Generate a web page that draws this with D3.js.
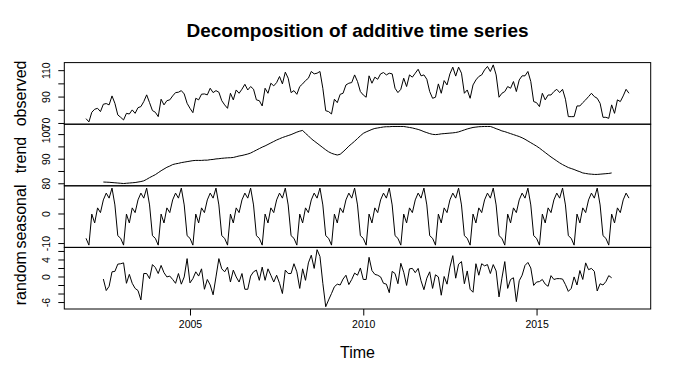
<!DOCTYPE html>
<html><head><meta charset="utf-8">
<script src="https://cdn.jsdelivr.net/npm/d3@7"></script>
<style>
body{margin:0;background:#fff}
svg{display:block}
text{font-family:"Liberation Sans",Arial,Helvetica,sans-serif;fill:#000}
</style>
</head><body>
<svg id="chart" width="677" height="385"></svg>
<script>
// ---- data: monthly series, Jan 2002 .. Sep 2017 ----
const startYear = 2002;
const frequency = 12;

const observed = [
73.3,70.8,78.1,80.4,81.1,78.6,84.2,84.7,83.7,90.5,84.9,76.1,
74.3,72.3,77.3,76.8,79.9,77.3,81.6,82.4,86.2,91.3,85.4,79.4,
78.1,74.8,88.0,83.7,86.9,87.5,90.5,93.0,93.3,94.5,92.0,84.9,
81.1,77.8,88.7,87.5,91.8,92.0,91.3,96.3,93.0,94.5,93.3,86.9,
83.7,81.1,92.5,87.5,95.0,92.5,95.6,99.3,95.0,97.6,95.6,87.5,
86.9,82.9,96.3,92.5,100.1,98.1,100.6,105.2,99.6,108.5,103.9,93.0,
94.5,91.7,97.6,99.6,102.1,103.9,109.0,107.2,107.7,109.0,96.3,79.3,
78.6,76.8,88.0,85.4,91.7,92.5,98.8,100.1,100.6,106.4,101.4,93.8,
91.2,89.5,105.7,100.1,104.7,103.1,107.2,108.2,106.4,107.7,107.2,96.3,
93.0,95.5,103.9,97.6,106.4,104.7,107.7,110.7,105.7,106.4,103.1,93.8,
88.7,89.5,99.6,92.5,102.1,98.8,107.2,112.3,105.5,112.3,107.7,92.5,
95.0,88.7,98.8,102.6,105.2,106.4,110.2,112.8,109.0,114.0,106.4,89.5,
92.5,93.8,97.6,96.3,101.4,93.8,102.6,105.7,105.7,109.0,101.4,86.2,
85.4,82.4,92.5,87.5,91.2,91.2,93.8,95.5,93.0,95.5,88.0,74.8,
74.8,74.8,82.9,82.9,85.4,87.5,90.0,92.5,90.0,88.7,84.9,74.3,
74.3,73.5,83.7,77.3,87.5,86.2,90.5,95.5,92.5
];

const trendOffset = 6; // first and last 6 months are NA
const trend = [
80.5,80.45,80.4,80.3,80.2,80.1,
80.0,79.9,80.0,80.1,80.2,80.3,80.5,80.7,81.0,81.6,82.3,82.9,
83.5,84.3,85.1,85.8,86.5,87.0,87.6,87.9,88.1,88.4,88.6,88.8,
89.0,89.2,89.3,89.3,89.3,89.4,89.4,89.6,89.7,89.9,90.0,90.15,
90.25,90.35,90.4,90.5,90.8,91.1,91.3,91.6,91.9,92.3,92.9,93.5,
94.1,94.7,95.2,95.8,96.4,97.0,97.6,98.1,98.6,99.0,99.4,99.8,
100.3,100.8,101.2,101.5,100.3,99.3,98.1,97.2,96.3,95.4,94.5,93.6,
92.8,92.2,91.8,91.5,91.8,92.8,93.9,95.1,96.1,97.1,98.2,99.3,
100.3,100.9,101.4,101.9,102.3,102.5,102.7,102.9,103.0,103.0,103.1,103.1,
103.1,103.1,103.1,102.9,102.7,102.5,102.2,101.9,101.5,101.0,100.6,100.2,
99.9,99.8,99.9,100.1,100.2,100.3,100.4,100.5,100.65,100.9,101.3,101.7,
102.1,102.4,102.7,102.85,103.0,103.05,103.1,103.1,103.1,102.7,102.2,101.8,
101.3,101.0,100.6,100.2,99.8,99.4,99.0,98.5,97.9,97.2,96.5,95.8,
95.1,94.3,93.4,92.5,91.6,90.7,89.9,89.1,88.3,87.6,87.0,86.4,
86.0,85.6,85.1,84.7,84.2,84.0,83.8,83.7,83.6,83.6,83.7,83.8,
83.9,84.0,84.2
];

// seasonal figure, Jan..Dec (repeats every year)
const seasonalFigure = [-8.4,-10.7,-0.2,-3.2,1.9,0.3,4.6,6.9,5.2,8.6,2.9,-7.5];

const randomOffset = 6;
const random = [
-0.6,-3.3,-2.3,1.1,1.2,2.9,
3.0,3.2,-1.6,0.5,-1.6,-2.8,-3.3,-5.5,0.7,0.7,-0.5,2.8,
2.1,0.7,2.6,0.9,-0.1,0.1,-0.7,-1.6,0.7,-1.8,-0.1,4.2,
-1.5,-0.5,1.1,0.1,1.8,-3.0,-0.7,-2.0,-4.3,-0.1,4.2,1.8,
1.1,2.2,-1.3,1.5,-0.1,-1.3,0.7,-3.0,-3.0,0.1,1.1,1.5,
-0.9,2.2,-0.9,1.8,0.3,-1.3,0.3,-1.6,-4.0,1.5,0.7,0.7,
3.0,1.1,-2.8,1.8,-0.9,3.2,5.0,1.9,6.3,4.7,-1.6,-7.1,
-5.5,-4.0,-2.4,-1.8,-2.0,-0.6,0.3,-1.9,-0.7,0.8,0.3,2.0,
-0.7,-0.7,4.5,1.4,0.5,0.3,-0.1,-1.6,-1.8,-3.8,1.2,0.7,
-1.7,3.1,1.0,-2.1,1.8,1.9,0.9,1.9,-1.0,-3.1,-0.4,1.1,
-2.8,0.4,-0.1,-4.4,0.0,-1.8,2.2,4.9,-0.4,2.9,3.5,-1.7,
1.3,-3.0,-3.7,3.0,0.3,3.0,2.5,2.8,0.7,2.8,1.3,-4.8,
-0.4,3.5,-2.8,-0.7,-0.3,-5.9,-1.0,0.3,2.6,3.3,2.0,-2.1,
-1.3,-1.2,-0.7,-1.8,-2.3,0.2,-0.7,-0.5,-0.5,-0.6,-1.9,-3.5,
-2.8,-0.1,-2.0,1.4,-0.7,3.2,1.6,1.9,1.2,-3.4,-1.7,-2.0,
-1.2,0.2,-0.3
];

// axis ticks and which of them carry a label
const xTicks = [2005, 2010, 2015];
const observedTicks = [70, 80, 90, 100, 110], observedLabels = [70, 90, 110];
const trendTicks = [80, 85, 90, 95, 100], trendLabels = [80, 90, 100];
const seasonalTicks = [-10, -5, 0, 5], seasonalLabels = [-10, 0];
const randomTicks = [-6, -4, -2, 0, 2, 4, 6], randomLabels = [-6, 0, 4];

// ---- build series ----
const n = observed.length;
const t = i => startYear + i / frequency;
const obsPts = observed.map((v, i) => [t(i), v]);
const trendPts = trend.map((v, i) => [t(i + trendOffset), v]);
const seasPts = d3.range(n).map(i => [t(i), seasonalFigure[i % 12]]);
const randPts = random.map((v, i) => [t(i + randomOffset), v]);

const panels = [
  {name: "observed", pts: obsPts, ticks: observedTicks, labels: observedLabels},
  {name: "trend", pts: trendPts, ticks: trendTicks, labels: trendLabels},
  {name: "seasonal", pts: seasPts, ticks: seasonalTicks, labels: seasonalLabels},
  {name: "random", pts: randPts, ticks: randomTicks, labels: randomLabels}
];

// ---- layout ----
const mLeft = 64.3, mRight = 650.7, mTop = 62.6, mBottom = 309;
const ph = (mBottom - mTop) / panels.length;
const svg = d3.select("#chart");

function padded(ext) { const d = ext[1] - ext[0]; return [ext[0] - 0.04 * d, ext[1] + 0.04 * d]; }

const x = d3.scaleLinear().domain(padded([t(0), t(n - 1)])).range([mLeft, mRight]);

panels.forEach((p, k) => {
  const y0 = mTop + k * ph, y1 = y0 + ph;
  const y = d3.scaleLinear().domain(padded(d3.extent(p.pts, d => d[1]))).range([y1, y0]);
  const g = svg.append("g");
  g.append("path")
    .datum(p.pts)
    .attr("fill", "none").attr("stroke", "#000").attr("stroke-width", 1)
    .attr("stroke-linejoin", "round")
    .attr("d", d3.line().x(d => x(d[0])).y(d => y(d[1])));
  g.append("rect").attr("x", mLeft).attr("y", y0).attr("width", mRight - mLeft).attr("height", ph)
    .attr("fill", "none").attr("stroke", "#000").attr("stroke-width", 1);
  const ax = g.append("g").attr("transform", `translate(${mLeft},0)`)
    .call(d3.axisLeft(y).tickValues(p.ticks).tickSize(6).tickSizeOuter(0)
      .tickFormat(v => p.labels.includes(v) ? String(v) : ""));
  ax.select(".domain").remove();
  ax.selectAll(".tick line").attr("stroke", "#000");
  ax.selectAll(".tick text")
    .attr("transform", "rotate(-90)")
    .attr("x", 0).attr("y", -14.5).attr("dy", null)
    .attr("text-anchor", "middle")
    .style("font-size", "10.5px").style("font-family", "'Liberation Sans',Arial,sans-serif").attr("fill", "#000");
  svg.append("text")
    .attr("transform", `translate(26,${(y0 + y1) / 2}) rotate(-90)`)
    .attr("text-anchor", "middle")
    .style("font-size", "16px")
    .text(p.name);
});

const xa = svg.append("g").attr("transform", `translate(0,${mBottom})`)
  .call(d3.axisBottom(x).tickValues(xTicks).tickSize(6.5).tickFormat(d3.format("d")));
xa.select(".domain").remove();
xa.selectAll(".tick line").attr("stroke", "#000");
xa.selectAll(".tick text").attr("y", 12).attr("dy", "0.71em")
  .style("font-size", "10.5px").style("font-family", "'Liberation Sans',Arial,sans-serif").attr("fill", "#000");

svg.append("text").attr("x", (mLeft + mRight) / 2).attr("y", 358)
  .attr("text-anchor", "middle").style("font-size", "16px").text("Time");

svg.append("text").attr("x", (mLeft + mRight) / 2).attr("y", 37)
  .attr("text-anchor", "middle").style("font-size", "19px").style("font-weight", "bold")
  .text("Decomposition of additive time series");
</script>
</body></html>
